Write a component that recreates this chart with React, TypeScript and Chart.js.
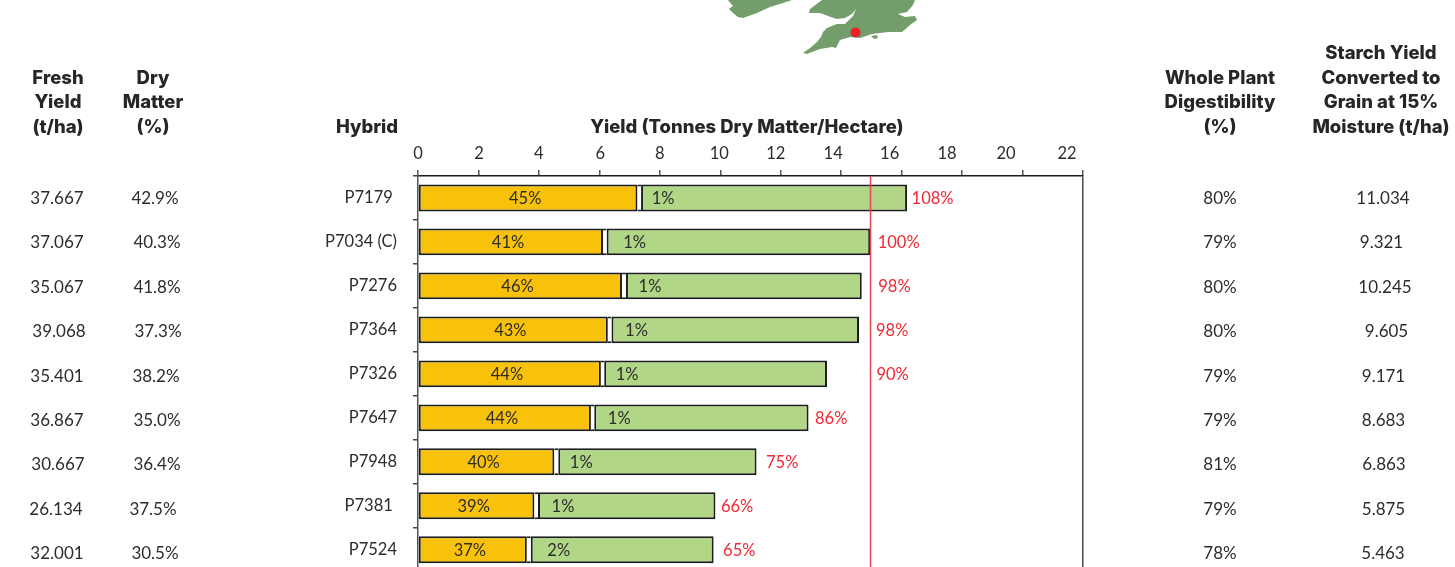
import React, { useEffect, useRef } from "react";
import { Chart, registerables } from "chart.js";

Chart.register(...registerables);

const hybrids = ["P7179 ", "P7034 (C)", "P7276", "P7364", "P7326", "P7647", "P7948", "P7381 ", "P7524"];
const grainYield = [7.26, 6.12, 6.75, 6.28, 6.05, 5.72, 4.51, 3.85, 3.6];
const cobYield = [0.12, 0.12, 0.13, 0.12, 0.11, 0.11, 0.13, 0.12, 0.13];
const stoverYield = [8.8, 8.72, 7.8, 8.19, 7.37, 7.09, 6.56, 5.87, 6.05];
const grainLabels = ["45%", "41%", "46%", "43%", "44%", "44%", "40%", "39%", "37%"];
const cobLabels = ["1%", "1%", "1%", "1%", "1%", "1%", "1%", "1%", "2%"];
const relativeLabels = ["108%", "100%", "98%", "98%", "90%", "86%", "75%", "66%", "65%"];
const freshYield = ["37.667", "37.067", "35.067", "39.068", "35.401", "36.867", "30.667", "26.134", "32.001"];
const dryMatter = ["42.9%", "40.3%", "41.8%", "37.3%", "38.2%", "35.0%", "36.4%", "37.5%", "30.5%"];
const digestibility = ["80%", "79%", "80%", "80%", "79%", "79%", "81%", "79%", "78%"];
const starchYield = ["11.034", "9.321", "10.245", "9.605", "9.171", "8.683", "6.863", "5.875", "5.463"];
const controlYield = 14.97;

// layout tweaks only
const tickLabelShift = [0, 0.5, 0, 1, 0, -1, -5, -8, -12, -15, -16.5, -16];
const relativeGap = [4.5, 7.5, 16.5, 17, 49.5, 6.5, 9.5, 5.5, 9.5];
const cobGap = [22, 28, 24, 25, 23, 25, 23, 25, 28];
const freshX = [57, 57, 57, 59, 57, 57, 58, 56, 57];
const dryX = [155, 157, 157, 158, 156, 157, 157, 153, 155];
const digestX = [1220, 1220, 1220, 1220, 1220, 1220, 1220, 1220, 1220];
const starchX = [1383, 1381.5, 1385, 1386.5, 1383.5, 1383.5, 1384, 1383.5, 1383];

const FONT = "Lato, sans-serif";
const INK = "#2c2c2c";
const RED = "#ee2a35";
const MAP = "#739e6b";
const BODY = `400 16.5px ${FONT}`;
const COLUMN = `400 17px ${FONT}`;
const HEAD = `800 18.5px Inter, sans-serif`;

const headers: [string[], number][] = [
  [["Fresh", "Yield", "(t/ha)"], 58],
  [["Dry", "Matter", "(%)"], 153],
  [["Hybrid"], 367],
  [["Yield (Tonnes Dry Matter/Hectare)"], 747],
  [["Whole Plant", "Digestibility", "(%)"], 1220],
  [["Starch Yield", "Converted to", "Grain at 15%", "Moisture (t/ha)"], 1381],
];

const overlay = {
  id: "overlay",
  afterDatasetsDraw(chart: any) {
    const { ctx, scales } = chart;
    const x = scales.x;
    const y = scales.y;
    ctx.save();
    ctx.textBaseline = "middle";

    // reference line
    ctx.strokeStyle = "#e8434e";
    ctx.lineWidth = 1.5;
    ctx.beginPath();
    const rx = x.getPixelForValue(controlYield);
    ctx.moveTo(rx, chart.chartArea.top);
    ctx.lineTo(rx, chart.chartArea.bottom);
    ctx.stroke();

    // axis tick labels
    ctx.font = BODY;
    ctx.fillStyle = INK;
    ctx.textAlign = "center";
    x.ticks.forEach((t: any, i: number) => {
      ctx.fillText(String(t.label), x.getPixelForTick(i) + tickLabelShift[i], 154);
    });

    // bar labels
    hybrids.forEach((_, i) => {
      const cy = y.getPixelForValue(i) + 1;
      const grainEnd = x.getPixelForValue(grainYield[i]);
      const cobEnd = x.getPixelForValue(grainYield[i] + cobYield[i]);
      const end = x.getPixelForValue(grainYield[i] + cobYield[i] + stoverYield[i]);
      ctx.textAlign = "center";
      ctx.fillStyle = INK;
      ctx.fillText(grainLabels[i], (x.getPixelForValue(0) + grainEnd) / 2 - 2.5, cy);
      ctx.fillText(cobLabels[i], cobEnd + cobGap[i], cy);
      ctx.textAlign = "left";
      ctx.fillStyle = RED;
      ctx.fillText(relativeLabels[i], end + relativeGap[i], cy);
    });

    // side columns
    ctx.font = COLUMN;
    ctx.textAlign = "center";
    ctx.fillStyle = INK;
    const rowY = (i: number) => 198.5 + 44.4 * i;
    hybrids.forEach((_, i) => {
      ctx.fillText(freshYield[i], freshX[i], rowY(i));
      ctx.fillText(dryMatter[i], dryX[i], rowY(i));
      ctx.fillText(digestibility[i], digestX[i], rowY(i));
      ctx.fillText(starchYield[i], starchX[i], rowY(i));
    });

    // column headers
    ctx.font = HEAD;
    ctx.fillStyle = "#262626";
    headers.forEach(([lines, cx]) => {
      lines.forEach((line, j) => {
        ctx.fillText(line, cx, 127.5 - 24.6 * (lines.length - 1 - j));
      });
    });
    ctx.restore();
  },
};

const irelandPath = "M728,0 L733,6 L729,9 L733,13 L738,17 L743,18 L757,13 L770,7 L783,3 L792,0 Z";
const britainPath =
  "M822,0 L818,3 L810,9 L809,13 L820,13 L828,16 L837,19 L845,18 L852,14 L856,9 L853,16 L845,24 L837,24 L827,28 L823,32 L821,37 L817,42 L810,48 L803,53 L807,54 L812,52 L820,49 L832,47 L836,48 L840,40 L850,37 L860,38 L872,34 L888,32 L902,32 L910,25 L917,20 L915,16 L905,17 L898,14 L907,12 L913,5 L915,0 Z";
const wightPath = "M871,36 L877,35 L878,38 L874,39 Z";

export default function App() {
  const ref = useRef<HTMLCanvasElement | null>(null);
  useEffect(() => {
    if (!ref.current) return;
    const bar = {
      borderColor: "#1d1d1d",
      borderWidth: 2,
      borderSkipped: false,
      barPercentage: 0.61,
      categoryPercentage: 1,
    };
    const chart = new Chart(ref.current, {
      type: "bar",
      data: {
        labels: hybrids,
        datasets: [
          { label: "Grain", data: grainYield, backgroundColor: "#f9c20a", ...bar },
          {
            label: "Cob",
            data: cobYield,
            backgroundColor: "#ffffff",
            ...bar,
            borderWidth: { top: 2, bottom: 2, left: 0, right: 0 },
          },
          { label: "Stover", data: stoverYield, backgroundColor: "#b1d786", ...bar },
        ],
      },
      options: {
        indexAxis: "y",
        animation: false,
        responsive: false,
        layout: { padding: { left: 0, top: 170, right: 372, bottom: 28.3 } },
        plugins: { legend: { display: false }, tooltip: { enabled: false } },
        scales: {
          x: {
            type: "linear",
            position: "top",
            stacked: true,
            min: 0,
            max: 22,
            ticks: { display: false, stepSize: 2 },
            border: { display: true, color: "#1d1d1d", width: 1.5 },
            grid: {
              color: (c: any) => (c.tick && c.tick.value === 22 ? "#4a4a4a" : "transparent"),
              tickColor: "#555555",
              tickLength: 6,
              lineWidth: 1.5,
            },
          },
          y: {
            type: "category",
            stacked: true,
            afterFit: (s: any) => {
              s.width = 418;
            },
            ticks: { color: INK, font: { family: FONT, size: 16.5 }, padding: 16, autoSkip: false },
            border: { display: true, color: "#555555", width: 1.5 },
            grid: { drawOnChartArea: false, offset: true, tickColor: "#444444", tickLength: 5, lineWidth: 1.5 },
          },
        },
      },
      plugins: [overlay],
    } as any);
    return () => chart.destroy();
  }, []);
  return (
    <div style={{ position: "fixed", inset: 0, overflow: "hidden", background: "#fff" }}>
      <canvas ref={ref} width={1455} height={600} style={{ position: "absolute", left: 0, top: 0 }} />
      <svg width={1455} height={70} style={{ position: "absolute", left: 0, top: 0 }}>
        <path d={irelandPath} fill={MAP} />
        <path d={britainPath} fill={MAP} fillRule="evenodd" />
        <path d={wightPath} fill={MAP} />
        <circle cx={855.5} cy={32.5} r={5} fill="#ee2027" />
      </svg>
    </div>
  );
}
